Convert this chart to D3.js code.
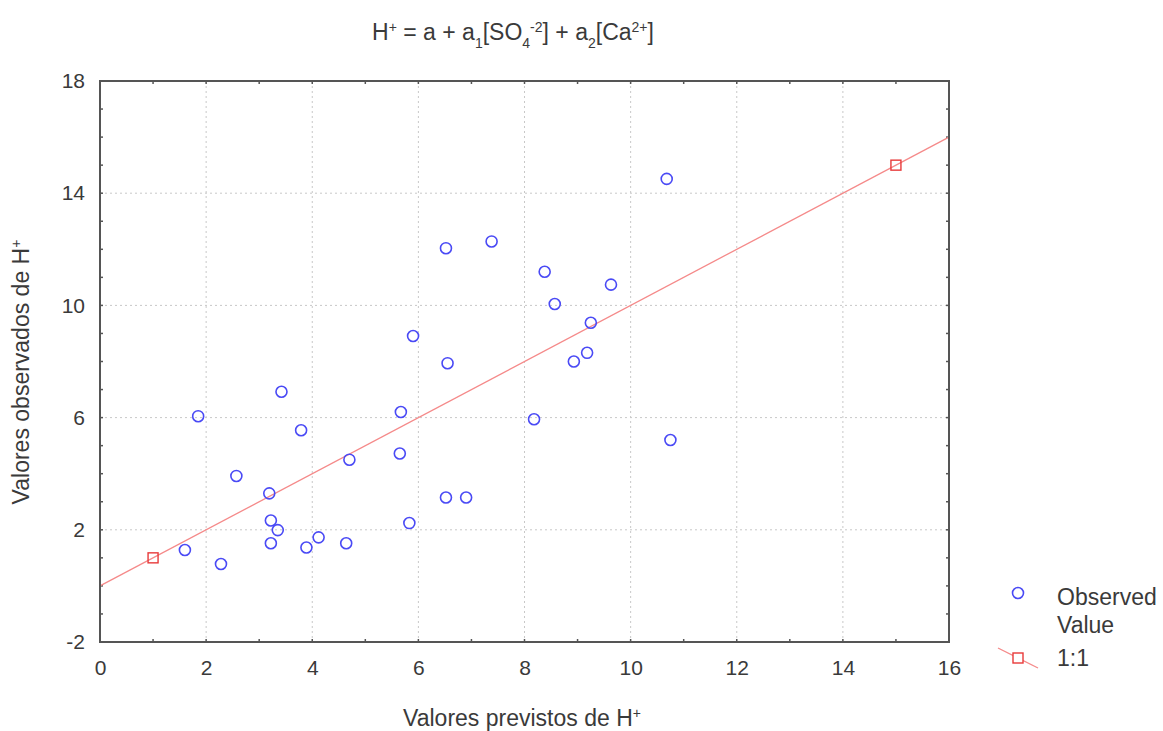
<!DOCTYPE html>
<html>
<head>
<meta charset="utf-8">
<script src="https://cdn.jsdelivr.net/npm/d3@7/dist/d3.min.js"></script>
<style>
  html, body { margin: 0; padding: 0; background: #fff; }
  svg { display: block; font-family: "Liberation Sans", Arial, sans-serif; }
</style>
</head>
<body>
<svg id="chart" width="1163" height="731"></svg>
<script>
// Predicted (x) and observed (y) H+ values
const predicted = [1.85, 1.60, 2.28, 2.57, 3.19, 3.42, 3.22, 3.35, 3.22, 3.89, 4.12,
  3.79, 4.70, 4.64, 5.67, 5.65, 5.83, 5.90, 6.52, 6.90, 6.52, 6.55, 7.38, 8.18,
  8.38, 8.57, 8.93, 9.18, 9.25, 9.63, 10.68, 10.75];
const observed = [6.05, 1.28, 0.78, 3.92, 3.30, 6.92, 2.33, 1.99, 1.52, 1.37, 1.73,
  5.55, 4.50, 1.52, 6.20, 4.72, 2.24, 8.91, 3.15, 3.15, 12.04, 7.94, 12.28, 5.94,
  11.20, 10.05, 8.00, 8.31, 9.38, 10.74, 14.51, 5.20];

// Reference 1:1 line and its markers
const lineX = [0, 16];
const markerX = [1, 15];

const xTicks = [0, 2, 4, 6, 8, 10, 12, 14, 16];
const yTicks = [-2, 2, 6, 10, 14, 18];

const svg = d3.select("#chart");
const plotL = 100, plotR = 949, plotT = 81, plotB = 642;

const x = d3.scaleLinear().domain([0, 16]).range([plotL, plotR]);
const y = d3.scaleLinear().domain([-2, 18]).range([plotB, plotT]);

const textColor = "#3a3a3a";
const frameColor = "#555";
const tickFont = 21;
const labelFont = 23;
const supFont = 14;

// Dotted grid
const grid = svg.append("g");
grid.selectAll("line.v").data(xTicks.slice(1, -1)).join("line")
  .attr("x1", d => x(d)).attr("x2", d => x(d))
  .attr("y1", plotT).attr("y2", plotB)
  .attr("stroke", "#c8c8c8").attr("stroke-width", 1).attr("stroke-dasharray", "2,3");
grid.selectAll("line.h").data(yTicks.slice(1, -1)).join("line")
  .attr("y1", d => y(d)).attr("y2", d => y(d))
  .attr("x1", plotL).attr("x2", plotR)
  .attr("stroke", "#c8c8c8").attr("stroke-width", 1).attr("stroke-dasharray", "2,3");

// Axes: labelled outer axes plus inward minor ticks on all four sides
const xAxis = d3.axisBottom(x).tickValues(xTicks).tickSize(0).tickPadding(18)
  .tickFormat(d3.format("d"));
const gx = svg.append("g").attr("transform", `translate(0,${plotB})`).call(xAxis);
const yAxis = d3.axisLeft(y).tickValues(yTicks).tickSize(0).tickPadding(15)
  .tickFormat(d => String(d));
const gy = svg.append("g").attr("transform", `translate(${plotL},0)`).call(yAxis);
[gx, gy].forEach(g => {
  g.select(".domain").remove();
  g.selectAll("text").attr("fill", textColor).attr("font-size", tickFont)
    .attr("font-family", "Liberation Sans, Arial, sans-serif");
});

const minorX = d3.range(0, 17, 1);
const minorY = d3.range(-2, 19, 1);
const ticksG = svg.append("g").attr("stroke", frameColor).attr("stroke-width", 1.5);
ticksG.selectAll("line.b").data(minorX).join("line")
  .attr("x1", d => x(d)).attr("x2", d => x(d)).attr("y1", plotB).attr("y2", plotB - 3);
ticksG.selectAll("line.t").data(minorX).join("line")
  .attr("x1", d => x(d)).attr("x2", d => x(d)).attr("y1", plotT).attr("y2", plotT + 3);
ticksG.selectAll("line.l").data(minorY).join("line")
  .attr("y1", d => y(d)).attr("y2", d => y(d)).attr("x1", plotL).attr("x2", plotL + 3);
ticksG.selectAll("line.r").data(minorY).join("line")
  .attr("y1", d => y(d)).attr("y2", d => y(d)).attr("x1", plotR).attr("x2", plotR - 3);

// 1:1 line
const lineColor = "#f58a8a";
const markColor = "#e83a3a";
svg.append("line")
  .attr("x1", x(lineX[0])).attr("y1", y(lineX[0]))
  .attr("x2", x(lineX[1])).attr("y2", y(lineX[1]))
  .attr("stroke", lineColor).attr("stroke-width", 1.3);
svg.selectAll("rect.m").data(markerX).join("rect")
  .attr("x", d => x(d) - 5).attr("y", d => y(d) - 5)
  .attr("width", 10).attr("height", 10)
  .attr("fill", "none").attr("stroke", markColor).attr("stroke-width", 1.4);

// Observed points
const ptColor = "#4a4af5";
svg.append("g").selectAll("circle").data(predicted).join("circle")
  .attr("cx", d => x(d)).attr("cy", (d, i) => y(observed[i]))
  .attr("r", 5.5)
  .attr("fill", "none").attr("stroke", ptColor).attr("stroke-width", 1.6);

// Frame
svg.append("rect")
  .attr("x", plotL).attr("y", plotT).attr("width", plotR - plotL).attr("height", plotB - plotT)
  .attr("fill", "none").attr("stroke", frameColor).attr("stroke-width", 2);

// Title with sub/superscripts
const title = svg.append("text")
  .attr("x", 513).attr("y", 40).attr("text-anchor", "middle")
  .attr("font-size", labelFont).attr("fill", textColor);
function part(t, shift) {
  const ts = title.append("tspan").text(t);
  if (shift) ts.attr("baseline-shift", shift).attr("font-size", supFont);
}
part("H"); part("+", "super"); part(" = a + a"); part("1", "sub"); part("[SO");
part("4", "sub"); part("-2", "super"); part("] + a"); part("2", "sub");
part("[Ca"); part("2+", "super"); part("]");

// Axis titles
const xt = svg.append("text").attr("x", 522).attr("y", 726).attr("text-anchor", "middle")
  .attr("font-size", labelFont).attr("fill", textColor);
xt.append("tspan").text("Valores previstos de H");
xt.append("tspan").text("+").attr("baseline-shift", "super").attr("font-size", supFont);

const yt = svg.append("text")
  .attr("transform", "translate(29,372) rotate(-90)").attr("text-anchor", "middle")
  .attr("font-size", labelFont).attr("fill", textColor);
yt.append("tspan").text("Valores observados de H");
yt.append("tspan").text("+").attr("baseline-shift", "super").attr("font-size", supFont);

// Legend
const lg = svg.append("g");
lg.append("circle").attr("cx", 1018).attr("cy", 593).attr("r", 5.5)
  .attr("fill", "none").attr("stroke", ptColor).attr("stroke-width", 1.6);
lg.append("text").attr("x", 1057).attr("y", 605).attr("font-size", labelFont).attr("fill", textColor).text("Observed");
lg.append("text").attr("x", 1057).attr("y", 633).attr("font-size", labelFont).attr("fill", textColor).text("Value");
lg.append("line").attr("x1", 998).attr("y1", 648).attr("x2", 1038).attr("y2", 668)
  .attr("stroke", lineColor).attr("stroke-width", 1.3);
lg.append("rect").attr("x", 1013).attr("y", 653).attr("width", 10).attr("height", 10)
  .attr("fill", "#fff").attr("stroke", markColor).attr("stroke-width", 1.4);
lg.append("text").attr("x", 1057).attr("y", 666).attr("font-size", labelFont).attr("fill", textColor).text("1:1");
</script>
</body>
</html>
